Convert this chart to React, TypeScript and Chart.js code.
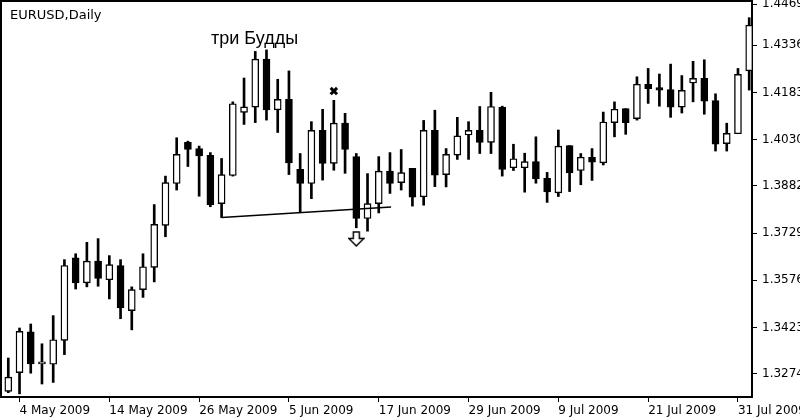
import React, { useEffect, useRef } from 'react';
import { Chart, registerables } from 'chart.js';

Chart.register(...registerables);

// Trading days shown (1 May 2009 .. 3 Aug 2009)
const dates = [
  '1 May', '4 May', '5 May', '6 May', '7 May', '8 May', '11 May', '12 May', '13 May', '14 May', '15 May',
  '18 May', '19 May', '20 May', '21 May', '22 May', '25 May', '26 May', '27 May', '28 May', '29 May',
  '1 Jun', '2 Jun', '3 Jun', '4 Jun', '5 Jun', '8 Jun', '9 Jun', '10 Jun', '11 Jun', '12 Jun',
  '15 Jun', '16 Jun', '17 Jun', '18 Jun', '19 Jun', '22 Jun', '23 Jun', '24 Jun', '25 Jun', '26 Jun',
  '29 Jun', '30 Jun', '1 Jul', '2 Jul', '3 Jul', '6 Jul', '7 Jul', '8 Jul', '9 Jul', '10 Jul',
  '13 Jul', '14 Jul', '15 Jul', '16 Jul', '17 Jul', '20 Jul', '21 Jul', '22 Jul', '23 Jul', '24 Jul',
  '27 Jul', '28 Jul', '29 Jul', '30 Jul', '31 Jul', '3 Aug',
];

const open = [
  1.3217, 1.3278, 1.3410, 1.3306, 1.3305, 1.3382, 1.3649, 1.3568, 1.3638, 1.3578,
  1.3624, 1.3478, 1.3546, 1.3618, 1.3754, 1.3889, 1.4022, 1.4002, 1.3980, 1.3824,
  1.3915, 1.4119, 1.4136, 1.4291, 1.4127, 1.4161, 1.3935, 1.3889, 1.4061, 1.3954,
  1.4084, 1.3976, 1.3776, 1.3824, 1.3929, 1.3892, 1.3938, 1.3846, 1.4061, 1.3918,
  1.3981, 1.4046, 1.4061, 1.4022, 1.4135, 1.3940, 1.3940, 1.3960, 1.3906, 1.3859,
  1.4012, 1.3931, 1.3974, 1.3956, 1.4086, 1.4131, 1.4099, 1.4210, 1.4199, 1.4193,
  1.4136, 1.4214, 1.4229, 1.4157, 1.4018, 1.4050, 1.4253,
];
const high = [
  1.3325, 1.3422, 1.3435, 1.3371, 1.3462, 1.3643, 1.3662, 1.3699, 1.3711, 1.3656,
  1.3643, 1.3555, 1.3662, 1.3821, 1.3913, 1.4037, 1.4026, 1.4010, 1.3989, 1.3970,
  1.4153, 1.4230, 1.4316, 1.4321, 1.4226, 1.4253, 1.3986, 1.4089, 1.4129, 1.4158,
  1.4116, 1.3986, 1.3921, 1.3976, 1.3989, 1.3999, 1.3938, 1.4093, 1.4126, 1.4002,
  1.4103, 1.4089, 1.4138, 1.4184, 1.4139, 1.4016, 1.3987, 1.4040, 1.3925, 1.4062,
  1.4012, 1.3986, 1.4002, 1.4120, 1.4153, 1.4131, 1.4234, 1.4261, 1.4243, 1.4275,
  1.4238, 1.4284, 1.4289, 1.4179, 1.4084, 1.4261, 1.4425,
];
const low = [
  1.3213, 1.3209, 1.3276, 1.3241, 1.3246, 1.3336, 1.3548, 1.3555, 1.3557, 1.3516,
  1.3452, 1.3416, 1.3521, 1.3571, 1.3717, 1.3868, 1.3944, 1.3848, 1.3814, 1.3779,
  1.3913, 1.4080, 1.4086, 1.4094, 1.4054, 1.3918, 1.3796, 1.3840, 1.3900, 1.3932,
  1.3922, 1.3746, 1.3735, 1.3794, 1.3857, 1.3868, 1.3816, 1.3819, 1.3879, 1.3878,
  1.3967, 1.3967, 1.3986, 1.3986, 1.3913, 1.3931, 1.3861, 1.3890, 1.3828, 1.3847,
  1.3863, 1.3885, 1.3899, 1.3949, 1.4040, 1.4048, 1.4094, 1.4148, 1.4139, 1.4103,
  1.4117, 1.4153, 1.4113, 1.3994, 1.3994, 1.4050, 1.4191,
];
const close = [
  1.3263, 1.3411, 1.3306, 1.3308, 1.3384, 1.3624, 1.3568, 1.3638, 1.3582, 1.3627,
  1.3487, 1.3546, 1.3620, 1.3757, 1.3892, 1.3983, 1.3999, 1.3978, 1.3821, 1.3918,
  1.4147, 1.4137, 1.4291, 1.4127, 1.4161, 1.3956, 1.3889, 1.4061, 1.3954, 1.4084,
  1.3999, 1.3776, 1.3824, 1.3929, 1.3889, 1.3924, 1.3845, 1.4061, 1.3916, 1.3983,
  1.4043, 1.4061, 1.4022, 1.4138, 1.3935, 1.3969, 1.3960, 1.3904, 1.3862, 1.4010,
  1.3923, 1.3974, 1.3958, 1.4088, 1.4129, 1.4086, 1.4210, 1.4196, 1.4191, 1.4136,
  1.4190, 1.4229, 1.4155, 1.4016, 1.4051, 1.4242, 1.4401,
];

const xTickIndex = [1, 9, 17, 25, 33, 41, 49, 57, 65];
const xTickLabels = [
  '4 May 2009', '14 May 2009', '26 May 2009', '5 Jun 2009', '17 Jun 2009',
  '29 Jun 2009', '9 Jul 2009', '21 Jul 2009', '31 Jul 2009',
];
const yTickValues = [1.3274, 1.3423, 1.3576, 1.3729, 1.3882, 1.4030, 1.4183, 1.4336, 1.4469];
const yTickLabels = ['1.3274', '1.3423', '1.3576', '1.3729', '1.3882', '1.4030', '1.4183', '1.4336', '1.4469'];

// annotations
const trendX = [19, 34.1];
const trendY = [1.3779, 1.3813];
const crossX = [29];
const crossY = [1.4188];
const arrowX = [31];
const arrowY = [1.3710];
const titleText = 'EURUSD,Daily';
const noteText = 'три Будды';

const X_MIN = -0.65;
const X_MAX = 66.25;
const Y_MIN = 1.3199;
const Y_MAX = 1.4479;

function makeArrow(): HTMLCanvasElement {
  const c = document.createElement('canvas');
  c.width = 17;
  c.height = 16;
  const g = c.getContext('2d')!;
  g.beginPath();
  g.moveTo(5.5, 1);
  g.lineTo(11.5, 1);
  g.lineTo(11.5, 7.5);
  g.lineTo(16, 7.5);
  g.lineTo(8.5, 15);
  g.lineTo(1, 7.5);
  g.lineTo(5.5, 7.5);
  g.closePath();
  g.fillStyle = '#fff';
  g.fill();
  g.lineWidth = 1.5;
  g.strokeStyle = '#000';
  g.stroke();
  return c;
}

const textPlugin = {
  id: 'textLabels',
  afterDatasetsDraw(chart: any) {
    const ctx = chart.ctx;
    ctx.save();
    ctx.fillStyle = '#000';
    ctx.textAlign = 'left';
    ctx.textBaseline = 'alphabetic';
    ctx.font = '13px "DejaVu Sans"';
    ctx.fillText(titleText, 10, 19);
    ctx.font = '18px "Liberation Sans"';
    ctx.fillText(noteText, 211, 44);
    ctx.restore();
  },
};

export default function App() {
  const ref = useRef<HTMLCanvasElement>(null);

  useEffect(() => {
    const canvas = ref.current;
    if (!canvas) return;
    const idx = dates.map((_, i) => i);
    const bodyColors = idx.map((i) => (close[i] >= open[i] ? '#ffffff' : '#000000'));
    const tickFont = { family: '"DejaVu Sans"', size: 12 };

    const chart = new Chart(canvas, {
      type: 'bar',
      data: {
        datasets: [
          {
            type: 'bar',
            label: 'body',
            data: idx.map((i) => ({ x: i, y: [open[i], close[i]] })) as any,
            backgroundColor: bodyColors,
            borderColor: '#000',
            borderWidth: 1.4,
            borderSkipped: false,
            barThickness: 7,
            minBarLength: 2,
            grouped: false,
            order: 1,
          } as any,
          {
            type: 'bar',
            label: 'wick',
            data: idx.map((i) => ({ x: i, y: [low[i], high[i]] })) as any,
            backgroundColor: '#000',
            borderWidth: 0,
            barThickness: 2,
            grouped: false,
            order: 2,
          } as any,
          {
            type: 'line',
            label: 'trend',
            data: trendX.map((x, i) => ({ x, y: trendY[i] })),
            borderColor: '#000',
            borderWidth: 1.5,
            pointRadius: 0,
            fill: false,
            order: 0,
          } as any,
          {
            type: 'scatter',
            label: 'cross',
            data: crossX.map((x, i) => ({ x, y: crossY[i] })),
            pointStyle: 'crossRot',
            pointRadius: 4.5,
            borderColor: '#000',
            borderWidth: 3,
            order: 0,
          } as any,
          {
            type: 'scatter',
            label: 'arrow',
            data: arrowX.map((x, i) => ({ x, y: arrowY[i] })),
            pointStyle: makeArrow(),
            pointRadius: 8,
            order: 0,
          } as any,
        ],
      },
      options: {
        responsive: false,
        animation: false,
        devicePixelRatio: 1,
        layout: { autoPadding: false, padding: { left: 1, top: 1, right: 0, bottom: 0 } },
        plugins: { legend: { display: false }, tooltip: { enabled: false } },
        scales: {
          x: {
            type: 'linear',
            position: 'bottom',
            min: X_MIN,
            max: X_MAX,
            offset: false,
            grid: { display: true, drawOnChartArea: false, drawTicks: true, tickLength: 5, color: '#000', lineWidth: 1, offset: false },
            border: { display: true, color: '#000', width: 2 },
            ticks: {
              autoSkip: false,
              maxRotation: 0,
              minRotation: 0,
              align: 'start',
              padding: 2,
              color: '#000',
              font: tickFont,
              callback: (_v: any, i: number) => xTickLabels[i],
            },
            afterBuildTicks: (s: any) => {
              s.ticks = xTickIndex.map((v) => ({ value: v }));
            },
            afterFit: (s: any) => {
              s.height = 23;
              s.paddingLeft = 0;
              s.paddingRight = 0;
            },
          },
          y: {
            type: 'linear',
            position: 'right',
            min: Y_MIN,
            max: Y_MAX,
            grid: { display: true, drawOnChartArea: false, drawTicks: true, tickLength: 5, color: '#000', lineWidth: 1 },
            border: { display: true, color: '#000', width: 2 },
            ticks: {
              padding: 5,
              color: '#000',
              font: tickFont,
              callback: (_v: any, i: number) => yTickLabels[i],
            },
            afterBuildTicks: (s: any) => {
              s.ticks = yTickValues.map((v) => ({ value: v }));
            },
            afterFit: (s: any) => {
              s.width = 48;
              s.paddingTop = 0;
              s.paddingBottom = 0;
            },
          },
          x2: {
            type: 'linear',
            position: 'top',
            min: X_MIN,
            max: X_MAX,
            grid: { display: false, drawTicks: false },
            ticks: { display: false },
            border: { display: true, color: '#000', width: 2 },
            afterFit: (s: any) => {
              s.height = 0;
              s.paddingLeft = 0;
              s.paddingRight = 0;
            },
          },
          y2: {
            type: 'linear',
            position: 'left',
            min: Y_MIN,
            max: Y_MAX,
            grid: { display: false, drawTicks: false },
            ticks: { display: false },
            border: { display: true, color: '#000', width: 2 },
            afterFit: (s: any) => {
              s.width = 0;
              s.paddingTop = 0;
              s.paddingBottom = 0;
            },
          },
        } as any,
      },
      plugins: [textPlugin],
    } as any);

    return () => chart.destroy();
  }, []);

  return (
    <div style={{ position: 'absolute', left: 0, top: 0, width: 800, height: 420, background: '#fff' }}>
      <canvas ref={ref} width={800} height={420} style={{ display: 'block' }} />
    </div>
  );
}
